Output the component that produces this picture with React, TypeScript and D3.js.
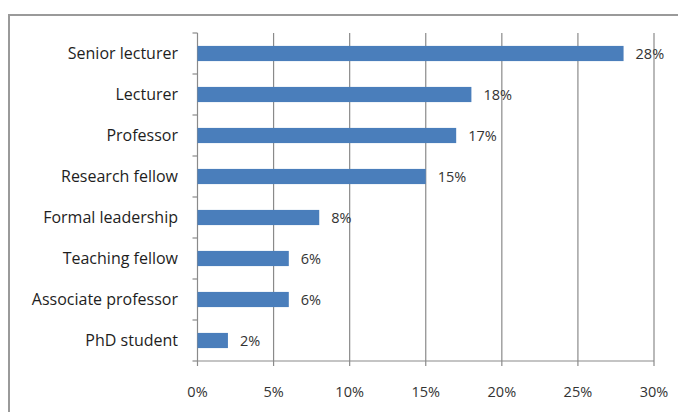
import React from "react";
import * as d3 from "d3";

const categories = [
  "Senior lecturer",
  "Lecturer",
  "Professor",
  "Research fellow",
  "Formal leadership",
  "Teaching fellow",
  "Associate professor",
  "PhD student",
];
const values = [28, 18, 17, 15, 8, 6, 6, 2];
const xTicks = [0, 5, 10, 15, 20, 25, 30];

const W = 678;
const H = 412;
const margin = { left: 197.5, right: 24, top: 33, bottom: 51 };
const FONT = "'Open Sans', Lato, sans-serif";

export default function App() {
  const x = d3.scaleLinear().domain([0, 30]).range([margin.left, W - margin.right]);
  const y = d3
    .scaleBand<string>()
    .domain(categories)
    .range([margin.top, H - margin.bottom])
    .paddingInner(0.63)
    .paddingOuter(0.315);
  const bottom = H - margin.bottom;
  const step = y.step();
  const boundaries = d3.range(categories.length + 1).map((i) => margin.top + i * step);

  return (
    <svg
      width={W}
      height={H}
      style={{ position: "absolute", left: 0, top: 0, background: "#fff" }}
    >
      <rect x={9} y={15} width={720} height={440} fill="#fff" stroke="#9a9a9a" strokeWidth={2} />
      {/* gridlines */}
      {xTicks.map((t) => (
        <line
          key={"g" + t}
          x1={x(t)}
          x2={x(t)}
          y1={margin.top}
          y2={bottom + 5}
          stroke="#8a8a8a"
          strokeWidth={1.2}
        />
      ))}
      {/* left axis ticks */}
      {boundaries.map((b, i) => (
        <line key={"yt" + i} x1={x(0) - 5} x2={x(0)} y1={b} y2={b} stroke="#8a8a8a" strokeWidth={1.2} />
      ))}
      <line x1={x(0)} x2={x(30)} y1={bottom} y2={bottom} stroke="#8a8a8a" strokeWidth={1.2} />
      {/* bars */}
      {categories.map((c, i) => (
        <rect
          key={c}
          x={x(0)}
          y={y(c)!}
          width={x(values[i]) - x(0)}
          height={y.bandwidth()}
          fill="#4a7ebb"
        />
      ))}
      {/* value labels */}
      {categories.map((c, i) => (
        <text
          key={"v" + c}
          x={x(values[i]) + 12}
          y={y(c)! + y.bandwidth() / 2}
          dy="0.35em"
          fontFamily={FONT}
          fontSize={14.5}
          fill="#333"
        >
          {values[i]}%
        </text>
      ))}
      {/* category labels */}
      {categories.map((c) => (
        <text
          key={"c" + c}
          x={178}
          y={y(c)! + y.bandwidth() / 2}
          dy="0.35em"
          textAnchor="end"
          fontFamily={FONT}
          fontSize={16}
          fill="#1e1e1e"
        >
          {c}
        </text>
      ))}
      {/* x tick labels */}
      {xTicks.map((t) => (
        <text
          key={"xt" + t}
          x={x(t)}
          y={392}
          dy="0.35em"
          textAnchor="middle"
          fontFamily={FONT}
          fontSize={14.5}
          fill="#333"
        >
          {t}%
        </text>
      ))}
    </svg>
  );
}
